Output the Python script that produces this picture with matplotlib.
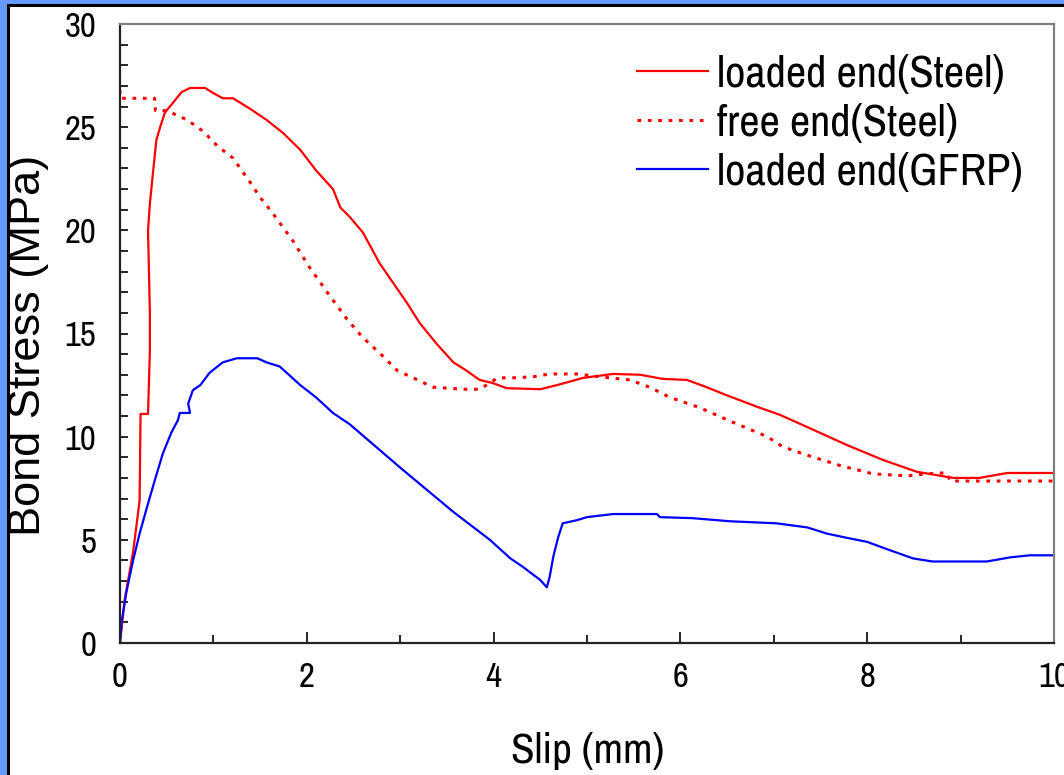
import matplotlib
matplotlib.use("Agg")
import matplotlib.pyplot as plt
from matplotlib.patches import Rectangle
from matplotlib.ticker import MultipleLocator

plt.rcParams['font.family'] = ['Archivo Narrow', 'Liberation Sans', 'DejaVu Sans']

# loaded end (Steel)
steel_load_x = [0, 0.05, 0.14, 0.21, 0.22, 0.30, 0.32, 0.32, 0.30, 0.32, 0.36, 0.39, 0.43, 0.48,
                0.57, 0.66, 0.75, 0.91, 1.0, 1.1, 1.21, 1.39, 1.57, 1.75, 1.93, 2.1, 2.28, 2.36,
                2.46, 2.6, 2.78, 3.07, 3.21, 3.39, 3.57, 3.71, 3.85, 3.99, 4.14, 4.5, 4.68, 4.96,
                5.28, 5.57, 5.81, 6.07, 6.28, 6.5, 6.82, 7.07, 7.39, 7.78, 8.17, 8.53, 8.92, 9.2,
                9.5, 10.0]
steel_load_y = [0, 2.1, 4.4, 6.9, 11.1, 11.1, 14.2, 16.0, 20.0, 21.3, 23.1, 24.4, 25.0, 25.7,
                26.2, 26.7, 26.9, 26.9, 26.65, 26.4, 26.4, 25.9, 25.35, 24.7, 23.9, 22.9, 22.0, 21.1,
                20.65, 19.9, 18.4, 16.5, 15.5, 14.5, 13.6, 13.2, 12.75, 12.6, 12.35, 12.3, 12.5, 12.85,
                13.04, 13.0, 12.8, 12.75, 12.4, 12.0, 11.45, 11.05, 10.4, 9.6, 8.87, 8.3, 8.0, 8.0,
                8.24, 8.24]

# free end (Steel)
steel_free_x = [0, 0, 0.37, 0.38, 0.5, 0.72, 0.89, 1.04, 1.21, 1.39, 1.5, 1.64, 1.85, 2.03, 2.25,
                2.43, 2.6, 2.78, 2.97, 3.14, 3.35, 3.67, 3.85, 3.96, 4.04, 4.2, 4.42, 4.6, 4.89,
                5.14, 5.46, 5.67, 5.89, 6.21, 6.56, 6.93, 7.1, 7.36, 7.71, 8.06, 8.43, 8.64, 8.85,
                8.89, 10.0]
steel_free_y = [26.8, 26.4, 26.4, 25.8, 25.8, 25.35, 24.8, 24.1, 23.5, 22.35, 21.6, 20.8, 19.5, 18.2, 16.8,
                15.7, 14.8, 14.05, 13.2, 12.85, 12.4, 12.3, 12.3, 12.6, 12.85, 12.85, 12.9, 13.04, 13.04,
                12.9, 12.75, 12.4, 11.9, 11.4, 10.7, 10.0, 9.5, 9.1, 8.6, 8.2, 8.1, 8.2, 8.25,
                7.85, 7.85]

# loaded end (GFRP)
gfrp_x = [0, 0.02, 0.07, 0.14, 0.21, 0.29, 0.38, 0.46, 0.55, 0.62, 0.64, 0.75, 0.73, 0.78, 0.86,
          0.96, 1.1, 1.25, 1.47, 1.57, 1.71, 1.93, 2.1, 2.28, 2.46, 3.0, 3.57, 3.96, 4.18, 4.31,
          4.5, 4.57, 4.6, 4.64, 4.69, 4.74, 4.89, 5.0, 5.28, 5.75, 5.78, 6.13, 6.53, 7.03, 7.36,
          7.57, 7.78, 8.0, 8.21, 8.49, 8.7, 9.28, 9.53, 9.74, 10.0]
gfrp_y = [0, 1.1, 2.5, 4.0, 5.3, 6.6, 8.0, 9.2, 10.2, 10.8, 11.15, 11.15, 11.6, 12.25, 12.5,
          13.1, 13.6, 13.8, 13.8, 13.6, 13.4, 12.5, 11.9, 11.15, 10.6, 8.5, 6.35, 5.0, 4.1, 3.7,
          3.05, 2.7, 3.2, 4.2, 5.1, 5.8, 5.95, 6.1, 6.25, 6.25, 6.1, 6.05, 5.9, 5.8, 5.6,
          5.3, 5.1, 4.9, 4.55, 4.1, 3.95, 3.95, 4.15, 4.25, 4.25]

fig = plt.figure(figsize=(10.64, 7.75), dpi=100)
fig.patch.set_facecolor('#6699ff')
# white slide panel
fig.patches.append(Rectangle((8 / 1064, -0.05), 1.1, 1 - 5 / 775 + 0.05, transform=fig.transFigure,
                             facecolor='white', edgecolor='black', linewidth=2.2, zorder=-10))

ax = fig.add_axes([120 / 1064, 1 - 643 / 775, 934 / 1064, 619 / 775])
ax.set_facecolor('white')

ax.plot(steel_load_x, steel_load_y, color='red', lw=1.6, label='loaded end(Steel)')
ax.plot(steel_free_x, steel_free_y, color='red', lw=2.2, linestyle=(0, (1.2, 2.2)),
        label='free end(Steel)')
ax.plot(gfrp_x, gfrp_y, color='blue', lw=1.6, label='loaded end(GFRP)')

ax.set_xlim(0, 10)
ax.set_ylim(0, 30)
ax.xaxis.set_major_locator(MultipleLocator(2))
ax.xaxis.set_minor_locator(MultipleLocator(1))
ax.yaxis.set_major_locator(MultipleLocator(5))
ax.yaxis.set_minor_locator(MultipleLocator(1))
ax.tick_params(which='both', direction='in', color='black', width=1.2)
ax.tick_params(axis='x', which='major', length=8, labelsize=25, pad=13)
ax.tick_params(axis='x', which='minor', length=6)
ax.tick_params(axis='y', which='both', length=6)
ax.tick_params(axis='y', which='major', labelsize=25, pad=17)
for s in ['left', 'bottom']:
    ax.spines[s].set_color('#222222')
    ax.spines[s].set_linewidth(1.6)
for s in ['top', 'right']:
    ax.spines[s].set_color('#808080')
    ax.spines[s].set_linewidth(1.6)

fig.text(29 / 1064, 1 - 345 / 775, 'Bond Stress (MPa)', rotation=90, ha='center', va='center',
         fontsize=32.5, family=['Liberation Sans', 'DejaVu Sans'])
fig.text(588 / 1064, 1 - 751 / 775, 'Slip (mm)', ha='center', va='center', fontsize=31)

leg = ax.legend(loc='upper left', bbox_to_anchor=((637 - 120) / 934, 1 - 31 / 619),
                frameon=False, fontsize=32, handlelength=1.6, handletextpad=0.2,
                labelspacing=0.2, borderpad=0, borderaxespad=0)

fig.savefig('out.png', dpi=100, facecolor=fig.get_facecolor())
